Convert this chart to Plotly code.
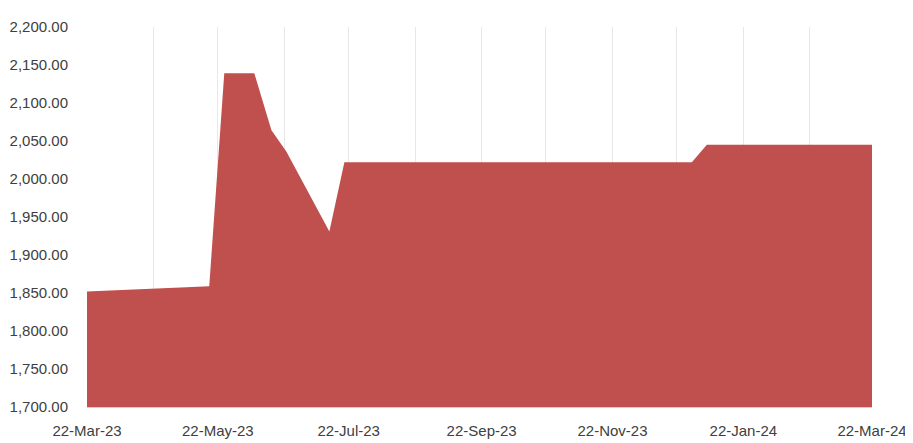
import plotly.graph_objects as go

dates = ["2023-03-22", "2023-04-06", "2023-04-21", "2023-05-18", "2023-05-25",
         "2023-06-08", "2023-06-16", "2023-06-23", "2023-07-13", "2023-07-20",
         "2023-12-29", "2024-01-05", "2024-03-22"]
values = [1852, 1854, 1856, 1859, 2139,
          2139, 2064, 2036, 1931, 2022,
          2022, 2045, 2045]

tick_font = dict(family="Liberation Sans Narrow, Arial Narrow, Liberation Sans, sans-serif",
                 size=15, color="#404040")

fig = go.Figure()
fig.add_trace(go.Scatter(
    x=dates, y=values, mode="lines", fill="tozeroy",
    line=dict(width=0, color="#C0504D"), fillcolor="#C0504D",
    hoverinfo="x+y", showlegend=False,
))

fig.update_layout(
    width=905, height=435,
    margin=dict(l=79, r=41, t=19, b=36, autoexpand=False),
    paper_bgcolor="white", plot_bgcolor="white",
    xaxis=dict(
        type="date",
        range=["2023-03-22", "2024-03-22"],
        tick0="2023-03-22", dtick="M2", tickformat="%d-%b-%y",
        showgrid=True, gridcolor="#E8E8E8", gridwidth=1,
        minor=dict(dtick="M1", tick0="2023-03-22", showgrid=True, gridcolor="#E8E8E8", gridwidth=1),
        showline=True, linecolor="#D0D0D0", linewidth=1,
        ticks="", tickfont=tick_font, ticklabelstandoff=10,
        zeroline=False, automargin=False,
    ),
    yaxis=dict(
        range=[1700, 2200], dtick=50, tickformat=",.2f",
        showgrid=False, zeroline=False, automargin=False,
        showline=False, ticks="", tickfont=tick_font, ticklabelstandoff=18,
    ),
)

fig.write_html("out.html")
